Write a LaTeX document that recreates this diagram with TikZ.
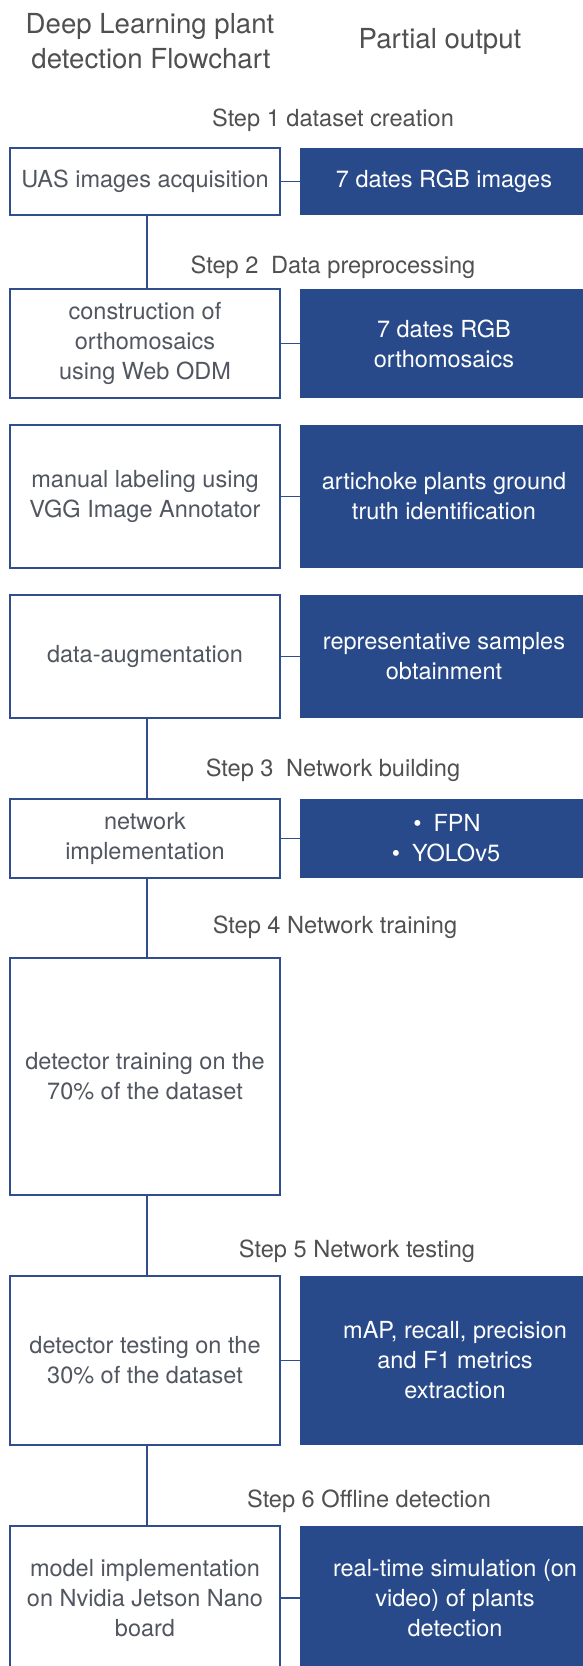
\documentclass[tikz,border=0pt]{standalone}
\usepackage{fontspec}
\setmainfont{TeX Gyre Heros}
\definecolor{navy}{RGB}{40,74,138}
\definecolor{edgeblue}{RGB}{48,78,142}
\definecolor{boxtxt}{RGB}{82,86,96}
\definecolor{steptxt}{RGB}{80,80,82}
\begin{document}
\begin{tikzpicture}[x=1pt,y=-1pt,
  lbox/.style={draw=edgeblue, line width=1.8pt, fill=white, minimum width=270pt,
    inner sep=0pt, align=center, text=boxtxt,
    font=\fontsize{23.5}{30}\selectfont},
  obox/.style={fill=navy, inner sep=0pt, align=center, text=white,
    font=\fontsize{23.5}{30}\selectfont},
  steplabel/.style={anchor=base, inner sep=0pt, text=steptxt,
    font=\fontsize{23.6}{28}\selectfont},
  titlelabel/.style={anchor=base, inner sep=0pt, text=steptxt,
    font=\fontsize{27.6}{34}\selectfont},
  link/.style={draw=edgeblue, line width=1.8pt}]
\useasboundingbox (0,0) rectangle (583,1666);
\fill[white] (0,0) rectangle (583,1666);

% titles
\node[titlelabel] (t1) at (150,33) {Deep Learning plant};
\node[titlelabel] (t2) at (151,68) {detection Flowchart};
\node[titlelabel] (t3) at (440,48) {Partial output};

% step labels
\node[steplabel] (s1) at (333,126) {Step 1 dataset creation};
\node[steplabel] (s2) at (333,273) {Step 2\hspace{6pt} Data preprocessing};
\node[steplabel] (s3) at (333,776) {Step 3\hspace{6pt} Network building};
\node[steplabel] (s4) at (335,933) {Step 4 Network training};
\node[steplabel] (s5) at (357,1257) {Step 5 Network testing};
\node[steplabel] (s6) at (369,1507) {Step 6 Offline detection};

% left boxes
\node[lbox, minimum height=67pt]  (b1) at (145,181.5) {UAS images acquisition};
\node[lbox, minimum height=109pt] (b2) at (145,343.5) {construction of\\orthomosaics\\using Web ODM};
\node[lbox, minimum height=143pt] (b3) at (145,496.5) {manual labeling using\\VGG Image Annotator};
\node[lbox, minimum height=123pt] (b4) at (145,656.5) {data-augmentation};
\node[lbox, minimum height=79pt]  (b5) at (145,838.5) {network\\implementation};
\node[lbox, minimum height=237pt] (b6) at (145,1076.5) {detector training on the\\70\% of the dataset};
\node[lbox, minimum height=169pt] (b7) at (145,1360.5) {detector testing on the\\30\% of the dataset};
\node[lbox, minimum height=144pt] (b8) at (145,1598) {model implementation\\on Nvidia Jetson Nano\\board};

% output boxes
\node[obox, minimum width=288pt, minimum height=67pt]  (o1) at (444,181.5) {7 dates RGB images};
\node[obox, minimum width=288pt, minimum height=109pt] (o2) at (444,343.5) {7 dates RGB\\orthomosaics};
\node[obox, minimum width=288pt, minimum height=143pt] (o3) at (444,496.5) {artichoke plants ground\\truth identification};
\node[obox, minimum width=288pt, minimum height=123pt] (o4) at (444,656.5) {representative samples\\obtainment};
\node[obox, minimum width=292pt, minimum height=79pt]  (o5) at (446,838.5) {\hspace{2pt}\textbullet\hspace{12pt}FPN\\\textbullet\hspace{12pt}YOLOv5};
\node[obox, minimum width=310pt, minimum height=169pt] (o7) at (455,1360.5) {mAP, recall, precision\\and F1 metrics\\extraction};
\node[obox, minimum width=310pt, minimum height=144pt] (o8) at (455,1598) {real-time simulation (on\\video) of plants\\detection};

% vertical spine connectors
\draw[link] ([xshift=2pt]b1.south) -- ([xshift=2pt]b2.north);
\draw[link] ([xshift=2pt]b4.south) -- ([xshift=2pt]b5.north);
\draw[link] ([xshift=2pt]b5.south) -- ([xshift=2pt]b6.north);
\draw[link] ([xshift=2pt]b6.south) -- ([xshift=2pt]b7.north);
\draw[link] ([xshift=2pt]b7.south) -- ([xshift=2pt]b8.north);

% horizontal connectors
\draw[link] (b1.east) -- (o1.west);
\draw[link] (b2.east) -- (o2.west);
\draw[link] (b3.east) -- (o3.west);
\draw[link] (b4.east) -- (o4.west);
\draw[link] (b5.east) -- (o5.west);
\draw[link] (b7.east) -- (o7.west);
\draw[link] (b8.east) -- (o8.west);
\end{tikzpicture}
\end{document}
